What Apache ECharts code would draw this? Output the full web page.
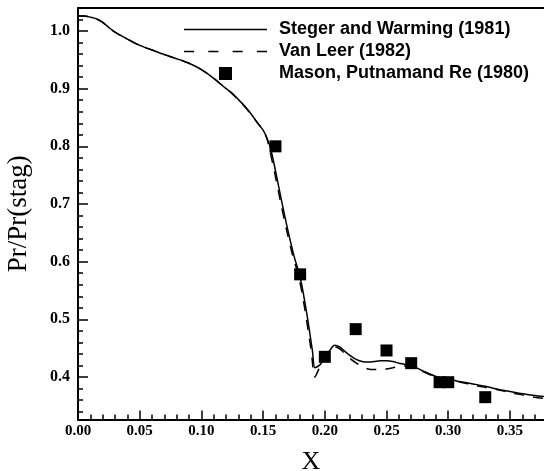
<!DOCTYPE html>
<html>
<head>
<meta charset="utf-8">
<script src="https://cdn.jsdelivr.net/npm/echarts@6/dist/echarts.min.js"></script>
<style>
html,body{margin:0;padding:0;background:#fff;}
#chart{width:544px;height:471px;}
</style>
</head>
<body>
<div id="chart"></div>
<script>
// Steger and Warming (1981) - solid line
var stegerX = [0, 0.005, 0.01, 0.015, 0.02, 0.025, 0.03, 0.04, 0.05, 0.06, 0.07, 0.08, 0.09, 0.10, 0.11, 0.12, 0.125, 0.13, 0.135, 0.14, 0.145, 0.15, 0.153, 0.156, 0.16, 0.165, 0.17, 0.175, 0.18, 0.185, 0.19, 0.192, 0.196, 0.20, 0.204, 0.208, 0.212, 0.216, 0.22, 0.225, 0.23, 0.235, 0.24, 0.245, 0.25, 0.255, 0.26, 0.265, 0.27, 0.28, 0.29, 0.30, 0.31, 0.32, 0.33, 0.34, 0.35, 0.36, 0.37, 0.378];
var stegerY = [1.026, 1.026, 1.024, 1.021, 1.015, 1.006, 0.998, 0.986, 0.975, 0.967, 0.959, 0.952, 0.944, 0.933, 0.918, 0.900, 0.892, 0.881, 0.870, 0.857, 0.842, 0.828, 0.815, 0.797, 0.758, 0.705, 0.655, 0.610, 0.573, 0.515, 0.445, 0.416, 0.421, 0.433, 0.446, 0.455, 0.452, 0.445, 0.438, 0.431, 0.427, 0.426, 0.427, 0.428, 0.428, 0.427, 0.424, 0.422, 0.420, 0.410, 0.401, 0.396, 0.392, 0.388, 0.384, 0.379, 0.375, 0.371, 0.368, 0.366];

// Van Leer (1982) - dashed line
var vanLeerX = [0, 0.005, 0.01, 0.015, 0.02, 0.025, 0.03, 0.04, 0.05, 0.06, 0.07, 0.08, 0.09, 0.10, 0.11, 0.12, 0.125, 0.13, 0.135, 0.14, 0.145, 0.15, 0.153, 0.155, 0.159, 0.164, 0.169, 0.174, 0.179, 0.184, 0.189, 0.192, 0.196, 0.20, 0.204, 0.208, 0.212, 0.216, 0.22, 0.225, 0.23, 0.235, 0.24, 0.245, 0.25, 0.255, 0.26, 0.265, 0.27, 0.28, 0.29, 0.30, 0.31, 0.32, 0.33, 0.34, 0.35, 0.36, 0.37, 0.378];
var vanLeerY = [1.026, 1.026, 1.024, 1.021, 1.015, 1.006, 0.998, 0.986, 0.975, 0.967, 0.959, 0.952, 0.944, 0.933, 0.918, 0.900, 0.891, 0.880, 0.869, 0.856, 0.842, 0.827, 0.814, 0.797, 0.758, 0.705, 0.655, 0.610, 0.573, 0.515, 0.445, 0.400, 0.418, 0.432, 0.444, 0.452, 0.449, 0.441, 0.433, 0.425, 0.418, 0.414, 0.413, 0.413, 0.414, 0.416, 0.418, 0.419, 0.418, 0.409, 0.400, 0.395, 0.391, 0.386, 0.382, 0.378, 0.373, 0.369, 0.365, 0.363];

// Mason, Putnam and Re (1980) - experiment squares
var masonX = [0.16, 0.18, 0.20, 0.225, 0.25, 0.27, 0.293, 0.30, 0.33];
var masonY = [0.800, 0.578, 0.435, 0.483, 0.446, 0.424, 0.391, 0.391, 0.365];

// tick values
var xTicks = [0, 0.05, 0.10, 0.15, 0.20, 0.25, 0.30, 0.35];
var xMinorTicks = [0.01, 0.02, 0.03, 0.04, 0.06, 0.07, 0.08, 0.09, 0.11, 0.12, 0.13, 0.14, 0.16, 0.17, 0.18, 0.19, 0.21, 0.22, 0.23, 0.24, 0.26, 0.27, 0.28, 0.29, 0.31, 0.32, 0.33, 0.34, 0.36, 0.37];
var yTicks = [0.4, 0.5, 0.6, 0.7, 0.8, 0.9, 1.0];
var yMinorTicks = [0.34, 0.36, 0.38, 0.42, 0.44, 0.46, 0.48, 0.52, 0.54, 0.56, 0.58, 0.62, 0.64, 0.66, 0.68, 0.72, 0.74, 0.76, 0.78, 0.82, 0.84, 0.86, 0.88, 0.92, 0.94, 0.96, 0.98, 1.02, 1.04];

var seriesNames = ['Steger and Warming (1981)', 'Van Leer (1982)', 'Mason, Putnamand Re (1980)'];

function pairs(xs, ys) { return xs.map(function (x, i) { return [x, ys[i]]; }); }

var X_MIN = 0, X_MAX = 0.3776, Y_MIN = 0.3263, Y_MAX = 1.0399;
var serif = "'Liberation Serif', 'Times New Roman', serif";
var sans = "'Liberation Sans', Arial, sans-serif";

var chart = echarts.init(document.getElementById('chart'), null, {renderer: 'canvas'});
chart.setOption({
  animation: false,
  backgroundColor: '#fff',
  grid: {left: 78, right: 0, top: 8, bottom: 51.5, containLabel: false, outerBoundsMode: 'none'},
  legend: {
    orient: 'vertical',
    left: 184, top: 20.5,
    padding: 0,
    itemWidth: 83, itemHeight: 13, itemGap: 4,
    textStyle: {fontFamily: sans, fontWeight: 'bold', fontSize: 18, color: '#000', padding: [0, 0, 0, 7], lineHeight: 18},
    data: [
      {name: seriesNames[0], icon: 'path://M0,0L83,0L83,1.6L0,1.6Z'},
      {name: seriesNames[1], icon: 'path://M0,0L10,0L10,1.6L0,1.6Z M24,0L34,0L34,1.6L24,1.6Z M48,0L58,0L58,1.6L48,1.6Z M72,0L82,0L82,1.6L72,1.6Z'},
      {name: seriesNames[2], icon: 'path://M0,0L12,0L12,12L0,12Z'}
    ]
  },
  xAxis: [
    {
      type: 'value', position: 'bottom', min: X_MIN, max: X_MAX,
      name: 'X', nameLocation: 'middle', nameGap: 30,
      nameTextStyle: {fontFamily: serif, fontSize: 26, color: '#000'},
      axisLine: {show: true, onZero: false, lineStyle: {color: '#000', width: 2}},
      axisTick: {show: true, inside: true, length: 9, customValues: xTicks, lineStyle: {color: '#000', width: 1.5}},
      axisLabel: {show: true, margin: 4, customValues: xTicks, formatter: function (v) { return v.toFixed(2); },
        fontFamily: serif, fontWeight: 'bold', fontSize: 15, color: '#000'},
      splitLine: {show: false}
    },
    {
      type: 'value', position: 'bottom', min: X_MIN, max: X_MAX,
      axisLine: {show: false},
      axisTick: {show: true, inside: true, length: 5, customValues: xMinorTicks, lineStyle: {color: '#000', width: 1.5}},
      axisLabel: {show: false},
      splitLine: {show: false}
    },
    {
      type: 'value', position: 'top', min: X_MIN, max: X_MAX,
      axisLine: {show: true, onZero: false, lineStyle: {color: '#000', width: 2}},
      axisTick: {show: false}, axisLabel: {show: false}, splitLine: {show: false}
    }
  ],
  yAxis: [
    {
      type: 'value', position: 'left', min: Y_MIN, max: Y_MAX,
      name: 'Pr/Pr(stag)', nameLocation: 'middle', nameGap: 46, nameRotate: 90,
      nameTextStyle: {fontFamily: serif, fontSize: 27, color: '#000'},
      axisLine: {show: true, onZero: false, lineStyle: {color: '#000', width: 2}},
      axisTick: {show: true, inside: true, length: 10, customValues: yTicks, lineStyle: {color: '#000', width: 1.5}},
      axisLabel: {show: true, margin: 8, customValues: yTicks, formatter: function (v) { return v.toFixed(1); },
        fontFamily: serif, fontWeight: 'bold', fontSize: 16, color: '#000'},
      splitLine: {show: false}
    },
    {
      type: 'value', position: 'left', min: Y_MIN, max: Y_MAX,
      axisLine: {show: false},
      axisTick: {show: true, inside: true, length: 5, customValues: yMinorTicks, lineStyle: {color: '#000', width: 1.5}},
      axisLabel: {show: false},
      splitLine: {show: false}
    }
  ],
  series: [
    {
      name: seriesNames[0], type: 'line', xAxisIndex: 0, yAxisIndex: 0,
      data: pairs(stegerX, stegerY), showSymbol: false, symbol: 'none', smooth: 0.3,
      lineStyle: {color: '#000', width: 1.5, type: 'solid'}, itemStyle: {color: '#000'}
    },
    {
      name: seriesNames[1], type: 'line', xAxisIndex: 0, yAxisIndex: 0,
      data: pairs(vanLeerX, vanLeerY), showSymbol: false, symbol: 'none', smooth: 0.3,
      lineStyle: {color: '#000', width: 1.5, type: [10, 9]}, itemStyle: {color: '#000'}
    },
    {
      name: seriesNames[2], type: 'scatter', xAxisIndex: 0, yAxisIndex: 0,
      data: pairs(masonX, masonY), symbol: 'rect', symbolSize: 12,
      itemStyle: {color: '#000', opacity: 1}
    }
  ]
});
</script>
</body>
</html>
